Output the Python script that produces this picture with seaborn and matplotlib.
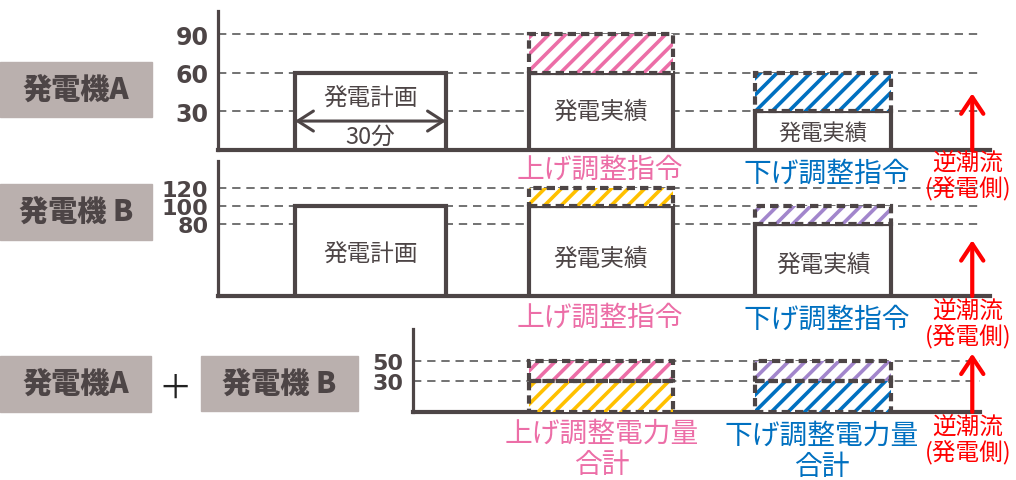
import matplotlib
matplotlib.use('Agg')
import matplotlib.pyplot as plt
from matplotlib.patches import Rectangle
import seaborn as sns

# ---- values ----
gen_a_ticks  = [30, 60, 90]
gen_a_plan   = 60
gen_a_actual = [60, 30]                 # 上げ側, 下げ側
gen_a_order  = [(60, 90), (30, 60)]     # 上げ調整指令, 下げ調整指令

gen_b_ticks  = [80, 100, 120]
gen_b_plan   = 100
gen_b_actual = [100, 80]
gen_b_order  = [(100, 120), (80, 100)]

total_ticks = [30, 50]
total_up    = [(0, 30), (30, 50)]       # 発電機B分, 発電機A分
total_down  = [(0, 30), (30, 50)]       # 発電機A分, 発電機B分

plan_text    = "発電計画"
actual_text  = "発電実績"
span_text    = "30分"
up_text      = "上げ調整指令"
down_text    = "下げ調整指令"
up_total     = "上げ調整電力量\n合計"
down_total   = "下げ調整電力量\n合計"
reverse_text = "逆潮流\n(発電側)"

# ---- style ----
DARK   = "#4d4546"
GRID   = "#5a5a5a"
PINK   = "#ec6ea7"
BLUE   = "#0070c0"
ORANGE = "#ffc000"
PURPLE = "#a286cc"
RED    = "#ff0000"
BOXBG  = "#bab0ae"
CJK    = ['Noto Sans CJK JP', 'DejaVu Sans']

sns.set_theme(style="white")
plt.rcParams['font.family'] = CJK
plt.rcParams['hatch.linewidth'] = 2.6

W, H = 1016, 481
fig = plt.figure(figsize=(W / 100, H / 100), dpi=100)
fig.patch.set_facecolor("white")

# slot layout (x in "slot" units, 0..10 = axis span)
X_PLAN, W_PLAN = 1.975, 1.955
X_UP, W_UP     = 4.96, 1.86
X_DOWN, W_DOWN = 7.84, 1.76
X_ARROW        = 9.77
X_GRID_END     = 9.87


def panel(left, top, right, bottom):
    return fig.add_axes([left / W, 1 - bottom / H, (right - left) / W, (bottom - top) / H])


def style_axis(ax, ticks, xlim, ylim, tick_size=17):
    ax.set_xlim(*xlim)
    ax.set_ylim(*ylim)
    ax.set_facecolor("none")
    sns.despine(ax=ax)
    ax.spines['left'].set_color(DARK)
    ax.spines['left'].set_linewidth(2.3)
    ax.spines['bottom'].set_color(DARK)
    ax.spines['bottom'].set_linewidth(3)
    ax.set_xticks([])
    ax.set_yticks(ticks)
    ax.set_yticklabels([str(t) for t in ticks], fontsize=tick_size, fontweight="bold",
                       color=DARK, family="DejaVu Sans")
    ax.tick_params(axis="y", length=0, pad=7)
    ax.hlines(ticks, xlim[0], X_GRID_END, colors=GRID, linestyles=(0, (5, 3.5)),
              linewidth=1.2, zorder=1)


def solid_bar(ax, x, w, top):
    ax.bar(x, top, width=w, color="white", edgecolor=DARK, linewidth=3, zorder=3)


def order_bar(ax, x, w, span, color):
    lo, hi = span
    ax.bar(x, hi - lo, bottom=lo, width=w, color="white", edgecolor=color,
           linewidth=0, hatch="//", zorder=3)
    ax.bar(x, hi - lo, bottom=lo, width=w, fill=False, edgecolor=DARK,
           linewidth=3, linestyle=(0, (2, 1.2)), zorder=4)


def up_arrow(ax, top):
    ax.annotate("", xy=(X_ARROW, top), xytext=(X_ARROW, 0),
                arrowprops=dict(arrowstyle="->,head_length=0.6,head_width=0.4",
                                color=RED, lw=3, mutation_scale=20,
                                shrinkA=0, shrinkB=0), zorder=5)


def ftext(x, y, s, **kw):
    fig.text(x / W, 1 - y / H, s, ha="center", va="center", **kw)


def name_box(x0, y0, x1, y1, label):
    fig.add_artist(Rectangle((x0 / W, 1 - y1 / H), (x1 - x0) / W, (y1 - y0) / H,
                             transform=fig.transFigure, color=BOXBG, zorder=0))
    ftext((x0 + x1) / 2, (y0 + y1) / 2 - 1, label, fontsize=21, fontweight="heavy",
          color=DARK)


# ---- 発電機A ----
ax_a = panel(218, 12, 990, 151)
style_axis(ax_a, gen_a_ticks, (0, 10), (0, 108))
solid_bar(ax_a, X_PLAN, W_PLAN, gen_a_plan)
solid_bar(ax_a, X_UP, W_UP, gen_a_actual[0])
solid_bar(ax_a, X_DOWN, W_DOWN, gen_a_actual[1])
order_bar(ax_a, X_UP, W_UP, gen_a_order[0], PINK)
order_bar(ax_a, X_DOWN, W_DOWN, gen_a_order[1], BLUE)
ax_a.text(X_PLAN, 40, plan_text, ha="center", va="center", fontsize=17, color=DARK, zorder=6)
ax_a.annotate("", xy=(X_PLAN - W_PLAN / 2, 22.5), xytext=(X_PLAN + W_PLAN / 2, 22.5),
              arrowprops=dict(arrowstyle="<->,head_length=0.7,head_width=0.45",
                              color=DARK, lw=2.2, mutation_scale=16,
                              shrinkA=0, shrinkB=0), zorder=6)
ax_a.text(X_PLAN, 11, span_text, ha="center", va="center", fontsize=17, color=DARK, zorder=6)
ax_a.text(X_UP, 30, actual_text, ha="center", va="center", fontsize=17, color=DARK, zorder=6)
ax_a.text(X_DOWN, 14, actual_text, ha="center", va="center", fontsize=16, color=DARK, zorder=6)
up_arrow(ax_a, 44)

# ---- 発電機B ----
ax_b = panel(218, 162, 990, 297)
style_axis(ax_b, gen_b_ticks, (0, 10), (0, 150), tick_size=16)
solid_bar(ax_b, X_PLAN, W_PLAN, gen_b_plan)
solid_bar(ax_b, X_UP, W_UP, gen_b_actual[0])
solid_bar(ax_b, X_DOWN, W_DOWN, gen_b_actual[1])
order_bar(ax_b, X_UP, W_UP, gen_b_order[0], ORANGE)
order_bar(ax_b, X_DOWN, W_DOWN, gen_b_order[1], PURPLE)
ax_b.text(X_PLAN, 46, plan_text, ha="center", va="center", fontsize=17, color=DARK, zorder=6)
ax_b.text(X_UP, 42, actual_text, ha="center", va="center", fontsize=17, color=DARK, zorder=6)
ax_b.text(X_DOWN, 35, actual_text, ha="center", va="center", fontsize=17, color=DARK, zorder=6)
up_arrow(ax_b, 62)

# ---- 合計 ----
x_left_c = (413 - 218) / 77.2
ax_c = panel(413, 330, 980, 413)
style_axis(ax_c, total_ticks, (x_left_c, X_GRID_END), (0, 81), tick_size=16)
order_bar(ax_c, X_UP, W_UP, total_up[0], ORANGE)
order_bar(ax_c, X_UP, W_UP, total_up[1], PINK)
order_bar(ax_c, X_DOWN, W_DOWN, total_down[0], BLUE)
order_bar(ax_c, X_DOWN, W_DOWN, total_down[1], PURPLE)
up_arrow(ax_c, 57)

# ---- labels outside the axes ----
ftext(600, 170, up_text, fontsize=20, color=PINK)
ftext(827, 174, down_text, fontsize=20, color=BLUE)
ftext(968, 177, reverse_text, fontsize=17, color=RED, linespacing=1.05)

ftext(600, 318, up_text, fontsize=20, color=PINK)
ftext(827, 320, down_text, fontsize=20, color=BLUE)
ftext(968, 325, reverse_text, fontsize=17, color=RED, linespacing=1.05)

ftext(602, 449, up_total, fontsize=20, color=PINK, linespacing=1.05)
ftext(822, 451, down_total, fontsize=20, color=BLUE, linespacing=1.05)
ftext(968, 441, reverse_text, fontsize=17, color=RED, linespacing=1.05)

name_box(0, 63, 152, 118, "発電機A")
name_box(0, 185, 152, 241, "発電機 B")
name_box(0, 357, 151, 413, "発電機A")
name_box(201, 357, 358, 412, "発電機 B")
ftext(175, 389, "＋", fontsize=24, color="#222222")

fig.savefig("out.png", dpi=100, facecolor="white")
